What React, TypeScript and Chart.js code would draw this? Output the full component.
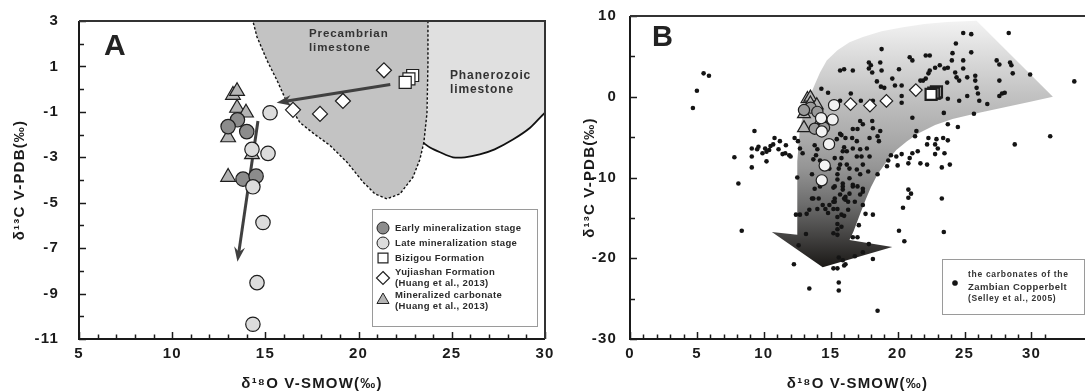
import React, { useEffect, useRef } from 'react';
import { Chart, registerables } from 'chart.js';

Chart.register(...registerables);

const FONT = '"Liberation Sans", Arial, Helvetica, sans-serif';

// ---------- measured data (δ18O V-SMOW ‰ , δ13C V-PDB ‰) ----------
const earlyO = [13.5, 13.0, 14.0, 13.8, 14.5];
const earlyC = [-1.35, -1.65, -1.87, -3.96, -3.83];
const lateO = [15.25, 14.28, 15.14, 14.33, 14.87, 14.55, 14.33];
const lateC = [-1.04, -2.65, -2.83, -4.3, -5.87, -8.52, -10.35];
const bizigouO = [22.9, 22.7, 22.5];
const bizigouC = [0.6, 0.45, 0.3];
const yujiashanO = [21.36, 19.16, 17.93, 16.48];
const yujiashanC = [0.83, -0.52, -1.09, -0.91];
const mineralO = [13.26, 13.48, 13.48, 13.96, 13.0, 14.28, 13.0];
const mineralC = [-0.26, -0.09, -0.83, -1.04, -2.13, -2.87, -3.87];

// Zambian Copperbelt carbonates (Selley et al., 2005): [δ18O, δ13C]
const zambian: [number, number][] = [
  [5.5, 2.9], [5.9, 2.6], [5.0, 0.75], [4.7, -1.4],
  [9.3, -4.25], [7.8, -7.5], [9.1, -6.4], [9.1, -7.4], [9.5, -6.5], [9.1, -8.75], [8.1, -10.75],
  [9.9, -7.0], [10.2, -8.0], [10.1, -6.4], [10.5, -6.1], [10.7, -5.9], [10.8, -5.1], [11.2, -5.5],
  [11.1, -6.5], [11.65, -6.0], [11.6, -7.0], [11.9, -7.25], [10.4, -6.6], [11.4, -7.1], [12.0, -7.4],
  [9.6, -6.2], [10.2, -6.8], [12.5, -10.0], [12.7, -6.4], [12.55, -5.5], [12.9, -7.0], [12.3, -5.1],
  [8.35, -16.6], [12.25, -20.75], [13.4, -23.75],
  [14.3, 1.0], [14.8, 0.5], [16.0, 3.4], [15.7, 3.25], [16.65, 3.25], [16.5, 0.4], [17.25, -0.5], [18.15, -0.5], [15.7, -0.5],
  [15.45, -5.25], [15.8, -4.75], [16.1, -5.1], [16.0, -6.25], [13.8, -6.0], [14.0, -6.5], [13.9, -7.25], [13.7, -7.75],
  [14.2, -7.9], [13.6, -9.6], [13.8, -11.4], [14.2, -11.1], [13.6, -12.6], [14.1, -12.6], [14.0, -13.9], [14.6, -13.9],
  [14.9, -13.4], [15.3, -12.6], [15.2, -11.25], [15.5, -10.25], [15.5, -9.6], [15.6, -8.9], [14.9, -8.9], [15.3, -7.6],
  [15.8, -7.6], [15.9, -6.75], [16.2, -6.75], [16.2, -8.4], [15.9, -11.5], [16.1, -12.4], [16.3, -13.0],
  [17.2, -3.0], [17.4, -3.4], [18.1, -3.0], [18.15, -3.9], [18.7, -4.25], [17.0, -4.0], [16.65, -4.0], [15.7, -4.6],
  [16.6, -5.1], [16.95, -5.5], [17.9, -5.1], [18.5, -4.9], [18.6, -5.5], [17.7, -6.4], [17.2, -6.5], [16.65, -6.4],
  [16.95, -7.4], [17.3, -7.4], [17.9, -7.4], [15.7, -8.4], [16.4, -8.9], [16.95, -9.0], [17.4, -8.4], [17.8, -9.25],
  [17.2, -9.6], [16.4, -10.1], [15.9, -10.75], [16.65, -10.9], [17.0, -11.1], [17.4, -11.75],
  [12.4, -14.6], [12.7, -14.6], [13.2, -14.5], [13.4, -14.0], [13.7, -12.6], [14.4, -13.4], [14.8, -14.4], [15.2, -13.9],
  [15.2, -13.0], [15.5, -14.9], [15.8, -14.6], [16.0, -14.75], [15.5, -15.75], [15.8, -16.1], [15.2, -16.9], [15.5, -17.1],
  [13.15, -17.0], [12.6, -18.4], [15.6, -19.9], [15.9, -20.25], [16.0, -20.9], [15.2, -21.25], [15.5, -21.25], [15.6, -23.0],
  [15.6, -24.0], [16.0, -12.6], [16.4, -12.0], [17.2, -12.1], [16.1, -12.75], [16.8, -13.0], [17.4, -13.4], [16.3, -14.0],
  [15.5, -16.4], [16.65, -17.4], [17.0, -17.4], [17.6, -14.5], [18.15, -14.6], [17.1, -15.9], [17.85, -18.25], [18.15, -20.1],
  [17.4, -19.25], [16.8, -19.75], [16.1, -20.75], [18.5, -26.5],
  [15.3, -11.1], [15.9, -11.1], [16.65, -11.1], [17.4, -11.4], [15.7, -12.1], [15.3, -13.0], [15.5, -13.9],
  [20.8, -11.5], [21.0, -12.0], [20.8, -12.5], [23.3, -12.6], [20.4, -13.75], [20.1, -16.6], [20.5, -17.9], [23.45, -16.75],
  [24.9, 7.9], [25.5, 7.75], [28.3, 7.9], [24.35, 6.6], [18.8, 5.9], [25.5, 5.5], [24.1, 5.4], [20.9, 4.9], [21.1, 4.5],
  [22.1, 5.1], [22.4, 5.1], [24.9, 4.5], [24.05, 4.5], [17.85, 4.25], [18.0, 3.9], [18.7, 4.25], [27.4, 4.5], [27.6, 4.0],
  [28.4, 4.25], [28.5, 3.9], [17.85, 3.5], [18.1, 3.0], [18.8, 3.25], [20.1, 3.4], [22.8, 3.6], [23.15, 3.9], [22.4, 3.25],
  [22.3, 2.9], [23.5, 3.5], [23.75, 3.6], [24.3, 3.0], [24.9, 3.5], [25.8, 2.6], [25.2, 2.4], [22.1, 2.25], [21.9, 2.0],
  [21.7, 2.0], [19.6, 2.25], [18.45, 1.9], [18.75, 1.25], [19.8, 1.4], [20.3, 1.4], [19.0, 1.1], [23.7, 1.75], [24.4, 2.4],
  [24.6, 2.0], [25.8, 2.0], [25.9, 1.1], [27.6, 2.0], [28.6, 2.9], [29.9, 2.75], [33.2, 1.9], [26.0, 0.4], [26.1, -0.5],
  [26.7, -0.9], [27.6, 0.1], [27.8, 0.4], [28.0, 0.5], [25.2, 0.1], [24.6, -0.5], [23.75, -0.25], [23.15, -0.1], [20.3, 0.1],
  [20.3, -0.75], [21.1, -2.6], [21.4, -4.25], [21.3, -4.9], [23.45, -2.0], [23.75, -3.4], [24.5, -3.75], [25.7, -2.1],
  [31.4, -4.9], [28.75, -5.9], [22.3, -5.1], [22.9, -5.25], [22.2, -5.9], [22.8, -5.9], [23.0, -6.4], [23.4, -5.1],
  [23.75, -5.4], [22.8, -7.1], [23.5, -7.0], [21.5, -6.75], [21.1, -7.0], [20.9, -7.6], [20.3, -7.1], [19.9, -7.4],
  [19.5, -7.25], [19.3, -7.9], [20.0, -8.5], [20.8, -8.25], [21.7, -8.25], [22.2, -8.4], [23.3, -8.75], [23.9, -8.4],
  [19.2, -8.6], [18.5, -9.6],
];

// ---------- fields (outlines in data units) ----------
const precambrianO = [14.17, 14.55, 15.09, 15.62, 16.05, 16.43, 16.86, 17.66, 18.47, 19.38, 20.24, 20.88, 21.52, 22.22, 22.92, 23.29, 23.5, 23.67, 23.72, 23.72];
const precambrianC = [3.5, 2.3, 1.26, 0.39, -0.39, -0.91, -1.48, -2.0, -2.48, -3.22, -4.09, -4.61, -4.83, -4.61, -3.87, -3.09, -2.35, -1.04, 1.13, 3.5];
const phanerozoicO = [23.72, 30.5, 30.5, 30.0, 29.2, 28.28, 27.3, 26.5, 25.7, 25.06, 24.37, 23.83, 23.45, 23.67, 23.72];
const phanerozoicC = [3.5, 3.5, -1.04, -1.04, -1.7, -2.22, -2.65, -2.87, -3.0, -3.0, -2.78, -2.57, -2.35, -1.04, 1.13];
const phanerozoicEdgeO = [30.5, 30.0, 29.2, 28.28, 27.3, 26.5, 25.7, 25.06, 24.37, 23.83, 23.45];
const phanerozoicEdgeC = [-0.75, -1.04, -1.7, -2.22, -2.65, -2.87, -3.0, -3.0, -2.78, -2.57, -2.35];
// Panel B evolution trend (band with arrow)
const trendO = [14.2, 14.7, 15.5, 16.4, 17.4, 18.8, 20.4, 22.0, 23.7, 25.9, 31.6, 30.0, 28.0, 26.0, 24.1, 22.8, 21.6, 20.7, 19.9, 19.2, 18.5, 18.0, 17.6, 17.2, 16.7, 16.4, 19.6, 14.4, 10.6, 12.5, 12.5, 12.5, 12.7, 13.0, 13.4, 13.8, 14.2];
const trendC = [3.0, 4.5, 5.75, 6.75, 7.4, 8.1, 8.6, 9.0, 9.25, 9.4, 0.0, -0.6, -1.3, -2.0, -2.75, -3.5, -4.5, -5.5, -6.6, -8.0, -9.6, -11.2, -12.8, -14.5, -16.7, -17.75, -18.6, -21.1, -16.75, -17.1, -13.0, -8.0, -3.9, -1.8, -0.1, 1.5, 3.0];
// Panel A arrows
const arrowFromO = [21.7, 14.6];
const arrowFromC = [0.2, -1.4];
const arrowToO = [15.6, 13.5];
const arrowToC = [-0.6, -7.6];

const toPts = (xs: number[], ys: number[]) => xs.map((x, i) => ({ x, y: ys[i] }));

function drawSymbol(ctx: CanvasRenderingContext2D, kind: string, x: number, y: number, r: number, fill: string, stroke: string, lw: number) {
  ctx.beginPath();
  if (kind === 'circle') ctx.arc(x, y, r, 0, Math.PI * 2);
  else if (kind === 'rect') { const s = r * Math.SQRT1_2; ctx.rect(x - s, y - s, 2 * s, 2 * s); }
  else if (kind === 'rectRot') { ctx.moveTo(x, y - r); ctx.lineTo(x + r, y); ctx.lineTo(x, y + r); ctx.lineTo(x - r, y); ctx.closePath(); }
  else if (kind === 'triangle') {
    ctx.moveTo(x, y - r);
    ctx.lineTo(x + r * Math.sin((2 * Math.PI) / 3), y - r * Math.cos((2 * Math.PI) / 3));
    ctx.lineTo(x + r * Math.sin((4 * Math.PI) / 3), y - r * Math.cos((4 * Math.PI) / 3));
    ctx.closePath();
  }
  ctx.fillStyle = fill; ctx.fill();
  ctx.lineWidth = lw; ctx.strokeStyle = stroke; ctx.stroke();
}

function text(ctx: CanvasRenderingContext2D, s: string, x: number, y: number, size: number, spacing: number, color = '#2a2a2a', align: CanvasTextAlign = 'left') {
  ctx.font = `bold ${size}px ${FONT}`;
  (ctx as any).letterSpacing = `${spacing}px`;
  ctx.fillStyle = color;
  ctx.textAlign = align;
  ctx.textBaseline = 'middle';
  ctx.fillText(s, x, y);
}

function frameAndTicks(chart: any, rightFrame: boolean, xTickMax: number) {
  const { ctx, chartArea: a, scales } = chart;
  const x = scales.x, y = scales.y;
  ctx.save();
  ctx.strokeStyle = '#1a1a1a';
  ctx.lineWidth = 1.5;
  x.ticks.forEach((t: any) => {
    if (t.value > xTickMax) return;
    const px = Math.round(x.getPixelForValue(t.value)) + 0.5;
    const len = t.label !== '' ? 7 : 4.5;
    ctx.beginPath(); ctx.moveTo(px, a.bottom); ctx.lineTo(px, a.bottom - len); ctx.stroke();
  });
  y.ticks.forEach((t: any) => {
    const py = Math.round(y.getPixelForValue(t.value)) + 0.5;
    const len = t.label !== '' ? 7 : 5;
    ctx.beginPath(); ctx.moveTo(a.left, py); ctx.lineTo(a.left + len, py); ctx.stroke();
  });
  ctx.lineWidth = 2;
  ctx.strokeStyle = '#1a1a1a';
  ctx.beginPath();
  ctx.moveTo(a.left, a.top); ctx.lineTo(a.left, a.bottom); ctx.lineTo(a.right, a.bottom);
  ctx.stroke();
  ctx.strokeStyle = '#333';
  ctx.beginPath();
  ctx.moveTo(a.left, a.top); ctx.lineTo(a.right, a.top);
  if (rightFrame) ctx.lineTo(a.right, a.bottom);
  ctx.stroke();
  ctx.restore();
}

const spacingPlugin = {
  id: 'spacing',
  beforeDraw(chart: any) { (chart.ctx as any).letterSpacing = '1.2px'; },
};

const panelAPlugin = {
  id: 'panelA',
  beforeDatasetDraw(chart: any, args: any) {
    if (chart.data.datasets[args.index].label !== 'Mineralized carbonate') return;
    const { ctx, scales: { x, y } } = chart;
    ctx.save();
    ctx.strokeStyle = '#404040';
    ctx.fillStyle = '#404040';
    ctx.lineWidth = 3;
    for (let i = 0; i < arrowFromO.length; i++) {
      const x0 = x.getPixelForValue(arrowFromO[i]), y0 = y.getPixelForValue(arrowFromC[i]);
      const x1 = x.getPixelForValue(arrowToO[i]), y1 = y.getPixelForValue(arrowToC[i]);
      const ang = Math.atan2(y1 - y0, x1 - x0);
      const len = 15, half = 5.5;
      ctx.beginPath();
      ctx.moveTo(x0, y0);
      ctx.lineTo(x1 - Math.cos(ang) * len * 0.6, y1 - Math.sin(ang) * len * 0.6);
      ctx.stroke();
      ctx.save();
      ctx.translate(x1, y1); ctx.rotate(ang);
      ctx.beginPath();
      ctx.moveTo(0, 0); ctx.lineTo(-len, -half); ctx.lineTo(-len * 0.65, 0); ctx.lineTo(-len, half); ctx.closePath();
      ctx.fill();
      ctx.restore();
    }
    ctx.restore();
  },
  afterDraw(chart: any) {
    const { ctx, chartArea: a, scales: { x, y } } = chart;
    frameAndTicks(chart, true, 99);
    ctx.save();
    text(ctx, 'A', a.left + 25, a.top + 26, 30, 0, '#222');
    text(ctx, 'Precambrian', x.getPixelForValue(17.34), y.getPixelForValue(2.43), 11.5, 0.9, '#333');
    text(ctx, 'limestone', x.getPixelForValue(17.34), y.getPixelForValue(1.82), 11.5, 0.9, '#333');
    text(ctx, 'Phanerozoic', x.getPixelForValue(24.9), y.getPixelForValue(0.61), 12, 0.9, '#333');
    text(ctx, 'limestone', x.getPixelForValue(24.9), y.getPixelForValue(-0.04), 12, 0.9, '#333');
    // legend
    const bl = a.right - 173, br = a.right - 8, bt = a.bottom - 130, bb = a.bottom - 13;
    ctx.fillStyle = '#ffffff';
    ctx.fillRect(bl, bt, br - bl, bb - bt);
    ctx.strokeStyle = '#9a9a9a'; ctx.lineWidth = 1;
    ctx.strokeRect(bl + 0.5, bt + 0.5, br - bl, bb - bt);
    const sx = bl + 11, tx = bl + 23;
    drawSymbol(ctx, 'circle', sx, bt + 19, 6, '#8c8c8c', '#222', 1);
    text(ctx, 'Early mineralization stage', tx, bt + 19, 9.5, 0.35);
    drawSymbol(ctx, 'circle', sx, bt + 34, 6, '#dcdcdc', '#222', 1);
    text(ctx, 'Late mineralization stage', tx, bt + 34, 9.5, 0.35);
    drawSymbol(ctx, 'rect', sx, bt + 49, 7, '#ffffff', '#222', 1.2);
    text(ctx, 'Bizigou Formation', tx, bt + 49, 9.5, 0.35);
    drawSymbol(ctx, 'rectRot', sx, bt + 69, 6.5, '#ffffff', '#222', 1.2);
    text(ctx, 'Yujiashan Formation', tx, bt + 63, 9.5, 0.35);
    text(ctx, '(Huang et al., 2013)', tx, bt + 74, 9.5, 0.35);
    drawSymbol(ctx, 'triangle', sx, bt + 91, 7, '#b4b4b4', '#222', 1);
    text(ctx, 'Mineralized carbonate', tx, bt + 86, 9.5, 0.35);
    text(ctx, '(Huang et al., 2013)', tx, bt + 97, 9.5, 0.35);
    ctx.restore();
  },
};

const panelBPlugin = {
  id: 'panelB',
  afterDraw(chart: any) {
    const { ctx, chartArea: a } = chart;
    frameAndTicks(chart, false, 31);
    ctx.save();
    text(ctx, 'B', a.left + 22, a.top + 22, 29, 0, '#222');
    const bl = a.right - 143, br = a.right - 1, bt = a.top + 243, bb = a.top + 298;
    ctx.fillStyle = '#ffffff';
    ctx.fillRect(bl, bt, br - bl, bb - bt);
    ctx.strokeStyle = '#9a9a9a'; ctx.lineWidth = 1;
    ctx.strokeRect(bl + 0.5, bt + 0.5, br - bl, bb - bt);
    drawSymbol(ctx, 'circle', bl + 13, bt + 24, 2.6, '#141414', '#141414', 0.5);
    text(ctx, 'the carbonates of the', bl + 26, bt + 16, 8.5, 0.7, '#333');
    text(ctx, 'Zambian Copperbelt', bl + 26, bt + 28, 9.5, 0.4, '#333');
    text(ctx, '(Selley et al., 2005)', bl + 26, bt + 40, 8.5, 0.6, '#333');
    ctx.restore();
  },
};

function markerSets(big: boolean) {
  const base = { showLine: false, pointBorderColor: '#1e1e1e' };
  return [
    { ...base, label: 'Bizigou Formation', data: toPts(bizigouO, bizigouC), pointStyle: 'rect', pointRadius: big ? 8.5 : 7.8, pointBackgroundColor: '#ffffff', pointBorderWidth: big ? 1.2 : 2.2, order: 1 },
    { ...base, label: 'Yujiashan Formation', data: toPts(yujiashanO, yujiashanC), pointStyle: 'rectRot', pointRadius: big ? 7.5 : 6.3, pointBackgroundColor: '#ffffff', pointBorderWidth: 1.2, order: 2 },
    { ...base, label: 'Late mineralization stage', data: toPts(lateO, lateC), pointStyle: 'circle', pointRadius: big ? 7.2 : 5.6, pointBackgroundColor: big ? '#dcdcdc' : '#f2f2f2', pointBorderWidth: 1.2, order: 3 },
    { ...base, label: 'Early mineralization stage', data: toPts(earlyO, earlyC), pointStyle: 'circle', pointRadius: big ? 7.2 : 5.6, pointBackgroundColor: big ? '#8c8c8c' : '#9a9a9a', pointBorderWidth: 1.2, order: 4 },
    { ...base, label: 'Mineralized carbonate', data: toPts(mineralO, mineralC), pointStyle: 'triangle', pointRadius: big ? 8.5 : 7.4, pointBackgroundColor: '#b4b4b4', pointBorderWidth: 1.2, order: 5 },
  ];
}

const tickFont = { family: FONT, size: 15, weight: 'bold' as const };

function axes(xMin: number, xMax: number, yMin: number, yMax: number, yStep: number, yLabelEvery: number, yPad: number) {
  return {
    x: {
      type: 'linear', min: xMin, max: xMax,
      afterFit: (s: any) => { s.height = 52; },
      grid: { display: false }, border: { display: false },
      ticks: { stepSize: 1, autoSkip: false, maxRotation: 0, padding: -2, color: '#1a1a1a', font: tickFont, callback: (v: any) => (v % 5 === 0 && v <= 30 ? String(v) : '') },
      title: { display: true, text: 'δ¹⁸O V-SMOW(‰)', color: '#1a1a1a', font: tickFont, padding: { top: 0, bottom: -2 } },
    },
    y: {
      type: 'linear', min: yMin, max: yMax,
      afterFit: (s: any) => { s.width = 0; },
      grid: { display: false }, border: { display: false },
      ticks: { stepSize: yStep, autoSkip: false, padding: yPad, color: '#1a1a1a', font: tickFont, callback: (v: any) => (Math.abs(v % yLabelEvery) === (yLabelEvery === 2 ? 1 : 0) ? String(v) : '') },
      title: { display: true, text: 'δ¹³C V-PDB(‰)', color: '#1a1a1a', font: tickFont, padding: { top: 11, bottom: 0 } },
    },
  };
}

export default function App() {
  const refA = useRef<HTMLCanvasElement>(null);
  const refB = useRef<HTMLCanvasElement>(null);

  useEffect(() => {
    Chart.defaults.font.family = FONT;
    const axA: any = axes(5, 30, -11, 3, 1, 2, 12);
    axA.y.afterFit = (s: any) => { s.width = 79; };
    const chartA = new Chart(refA.current as HTMLCanvasElement, {
      type: 'scatter',
      data: {
        datasets: [
          ...markerSets(true),
          { label: 'Precambrian limestone', data: toPts(precambrianO, precambrianC), showLine: true, fill: 'shape', backgroundColor: '#c3c3c3', borderColor: '#111', borderWidth: 1.4, borderDash: [2.5, 2], pointRadius: 0, tension: 0, order: 8 },
          { label: 'Phanerozoic edge', data: toPts(phanerozoicEdgeO, phanerozoicEdgeC), showLine: true, fill: false, borderColor: '#111', borderWidth: 1.8, pointRadius: 0, tension: 0.3, order: 9 },
          { label: 'Phanerozoic limestone', data: toPts(phanerozoicO, phanerozoicC), showLine: true, fill: 'shape', backgroundColor: '#e0e0e0', borderColor: 'rgba(0,0,0,0)', borderWidth: 0, pointRadius: 0, tension: 0, order: 10 },
        ] as any,
      },
      options: {
        responsive: false, animation: false, events: [],
        layout: { autoPadding: false, padding: { top: 16, right: 25, left: 0, bottom: 0 } },
        plugins: { legend: { display: false }, tooltip: { enabled: false } },
        scales: axA,
      } as any,
      plugins: [spacingPlugin, panelAPlugin],
    });

    const axB: any = axes(0, 34, -30, 10, 5, 10, 5);
    axB.y.afterFit = (s: any) => { s.width = 60; };
    const chartB = new Chart(refB.current as HTMLCanvasElement, {
      type: 'scatter',
      data: {
        datasets: [
          ...markerSets(false),
          { label: 'Zambian Copperbelt', data: zambian.map(([x, y]) => ({ x, y })), showLine: false, pointStyle: 'circle', pointRadius: 2.3, pointBackgroundColor: '#141414', pointBorderWidth: 0, order: 6 },
          {
            label: 'trend', data: toPts(trendO, trendC), showLine: true, fill: 'shape', borderWidth: 0, borderColor: 'rgba(0,0,0,0)', pointRadius: 0, tension: 0, order: 10,
            backgroundColor: (c: any) => {
              const ch = c.chart;
              const ys = ch.scales && ch.scales.y;
              if (!ch.chartArea || !ys) return '#999';
              const g = ch.ctx.createLinearGradient(0, ys.getPixelForValue(9.5), 0, ys.getPixelForValue(-21));
              g.addColorStop(0, '#f3f3f3');
              g.addColorStop(0.16, '#d9d9d9');
              g.addColorStop(0.3, '#c3c3c3');
              g.addColorStop(0.5, '#a7a7a7');
              g.addColorStop(0.6, '#959595');
              g.addColorStop(0.75, '#6c6c6c');
              g.addColorStop(0.88, '#434241');
              g.addColorStop(1, '#1c1a18');
              return g;
            },
          },
        ] as any,
      },
      options: {
        responsive: false, animation: false, events: [],
        layout: { autoPadding: false, padding: { top: 16, right: 0, left: 0, bottom: 0 } },
        plugins: { legend: { display: false }, tooltip: { enabled: false } },
        scales: axB,
      } as any,
      plugins: [spacingPlugin, panelBPlugin],
    });

    return () => { chartA.destroy(); chartB.destroy(); };
  }, []);

  return (
    <div style={{ position: 'absolute', left: 0, top: 0, width: 1085, height: 391, background: '#ffffff', overflow: 'hidden' }}>
      <canvas ref={refA} width={570} height={391} style={{ position: 'absolute', left: 0, top: 0, width: 570, height: 391 }} />
      <canvas ref={refB} width={515} height={391} style={{ position: 'absolute', left: 570, top: 0, width: 515, height: 391 }} />
    </div>
  );
}
